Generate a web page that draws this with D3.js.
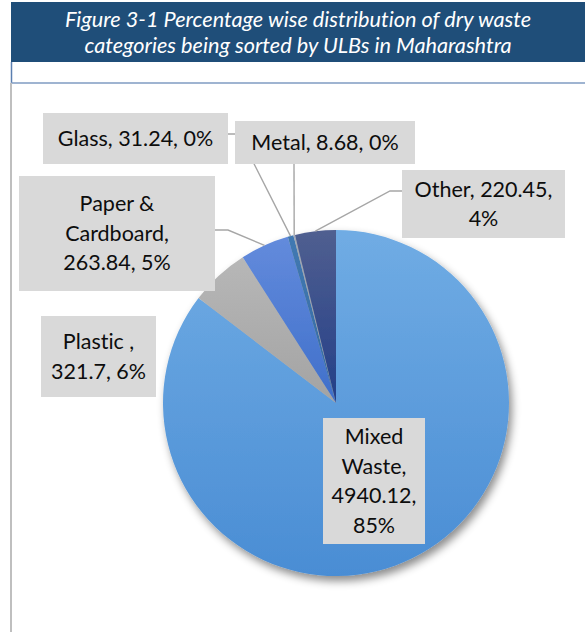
<html>
<head>
    <meta charset="utf-8">
    <title>Dry waste categories</title>
    <style>
        body { margin: 0; background: #fff; }
        svg { display: block; font-family: Lato, "Open Sans", sans-serif; font-variant-ligatures: none; }
        .title text { fill: #fff; font-style: italic; font-size: 21.7px; }
        .labels rect { fill: #d9d9d9; }
        .labels text { fill: #0d0d0d; font-size: 21.5px; }
        .leaders polyline { fill: none; stroke: #a6a6a6; stroke-width: 1.4px; }
    </style>
</head>
<body>
<svg width="585" height="632"></svg>
<script src="https://d3js.org/d3.v7.min.js"></script>
<script>
    // data
    var categories = ["Mixed Waste", "Plastic ", "Paper & Cardboard", "Glass", "Metal", "Other"];
    var values = [4940.12, 321.7, 263.84, 31.24, 8.68, 220.45];
    var valueLabels = ["4940.12", "321.7", "263.84", "31.24", "8.68", "220.45"];
    var percentLabels = ["85%", "6%", "5%", "0%", "0%", "4%"];
    var titleLines = ["Figure 3-1 Percentage wise distribution of dry waste",
                      "categories being sorted by ULBs in Maharashtra"];

    // slice colours (top, bottom of gradient)
    var colors = [["#70ace4", "#4a8dd4"], ["#b7b7b7", "#a3a3a3"], ["#638bdc", "#3f6fca"],
                  ["#4179b2", "#356aa2"], ["#a0a8b4", "#8893a3"], ["#505f90", "#233f88"]];

    // label placement: box, words per line, leader points from the box side
    var layout = [
        { x: 323, y: 418, w: 102, h: 126, lines: [1, 1, 1, 1], leader: null },
        { x: 41, y: 316, w: 115, h: 81, lines: [2, 2], leader: null },
        { x: 19, y: 176, w: 196, h: 115, lines: [2, 1, 2], leader: [[215, 230], [228, 230]] },
        { x: 43, y: 113, w: 185, h: 51, lines: [3], leader: [[228, 134], [239, 134]] },
        { x: 235, y: 121, w: 180, h: 43, lines: [3], leader: [[294, 164]] },
        { x: 402, y: 170, w: 163, h: 68, lines: [2, 1], leader: [[402, 191], [390, 191]] }
    ];

    var svg = d3.select("svg"), width = +svg.attr("width"), height = +svg.attr("height");
    var cx = 336, cy = 403, radius = 173;

    // frame: title banner, white strip, left rule
    svg.append("rect").attr("x", 11).attr("y", 2).attr("width", width - 11).attr("height", 60)
        .attr("fill", "#1f4e79");
    svg.append("line").attr("x1", 11.5).attr("x2", 11.5).attr("y1", 62).attr("y2", 83)
        .attr("stroke", "#5b7fb0").attr("stroke-width", 1.5);
    svg.append("line").attr("x1", 11).attr("x2", width).attr("y1", 83).attr("y2", 83)
        .attr("stroke", "#7f9bc2").attr("stroke-width", 1.5);
    svg.append("line").attr("x1", 11).attr("x2", 11).attr("y1", 83).attr("y2", height)
        .attr("stroke", "#bfbfbf").attr("stroke-width", 2);

    svg.append("g").attr("class", "title")
        .selectAll("text")
        .data(titleLines)
        .enter().append("text")
        .attr("x", 298)
        .attr("y", function (d, i) { return 27 + i * 26; })
        .attr("text-anchor", "middle")
        .text(function (d) { return d; });

    var defs = svg.append("defs");
    var shadow = defs.append("filter").attr("id", "shadow")
        .attr("x", "-20%").attr("y", "-20%").attr("width", "140%").attr("height", "140%");
    shadow.append("feDropShadow").attr("dx", 3).attr("dy", 5).attr("stdDeviation", 4)
        .attr("flood-color", "#000").attr("flood-opacity", 0.45);

    colors.forEach(function (c, i) {
        var g = defs.append("linearGradient").attr("id", "grad" + i)
            .attr("x1", 0).attr("y1", 0).attr("x2", 0).attr("y2", 1);
        g.append("stop").attr("offset", "0%").attr("stop-color", c[0]);
        g.append("stop").attr("offset", "100%").attr("stop-color", c[1]);
    });

    var pie = d3.pie().sort(null).value(function (d) { return d; });
    var arcs = pie(values);
    var arc = d3.arc().innerRadius(0).outerRadius(radius);

    svg.append("g")
        .attr("transform", "translate(" + cx + "," + cy + ")")
        .attr("filter", "url(#shadow)")
        .selectAll("path")
        .data(arcs)
        .enter().append("path")
        .attr("d", arc)
        .attr("fill", function (d, i) { return "url(#grad" + i + ")"; });

    // leader lines go from the label box to the slice edge at its mid angle
    function edgePoint(d) {
        var a = (d.startAngle + d.endAngle) / 2;
        return [cx + radius * Math.sin(a), cy - radius * Math.cos(a)];
    }

    svg.append("g").attr("class", "leaders")
        .selectAll("polyline")
        .data(arcs.filter(function (d, i) { return layout[i].leader; }))
        .enter().append("polyline")
        .attr("points", function (d) {
            return layout[d.index].leader.concat([edgePoint(d)]).join(" ");
        });

    var label = svg.append("g").attr("class", "labels")
        .selectAll("g")
        .data(arcs)
        .enter().append("g");

    label.append("rect")
        .attr("x", function (d, i) { return layout[i].x; })
        .attr("y", function (d, i) { return layout[i].y; })
        .attr("width", function (d, i) { return layout[i].w; })
        .attr("height", function (d, i) { return layout[i].h; });

    label.each(function (d, i) {
        var words = (categories[i] + ", " + valueLabels[i] + ", " + percentLabels[i]).split(" ");
        var L = layout[i], lines = [], k = 0;
        L.lines.forEach(function (n) { lines.push(words.slice(k, k + n).join(" ")); k += n; });
        var lineH = 29.5;
        var top = L.y + L.h / 2 - lineH * lines.length / 2;
        d3.select(this).selectAll("text")
            .data(lines)
            .enter().append("text")
            .attr("x", L.x + L.w / 2)
            .attr("y", function (t, j) { return top + lineH * j + 22; })
            .attr("text-anchor", "middle")
            .text(function (t) { return t; });
    });
</script>
</body>
</html>
